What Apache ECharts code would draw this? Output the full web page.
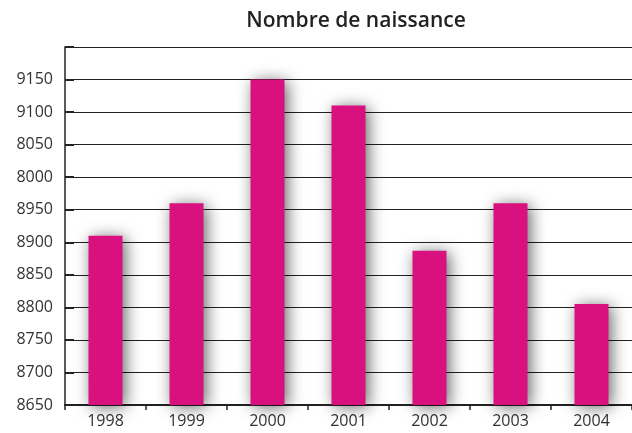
<!DOCTYPE html>
<html><head><meta charset="utf-8">
<script src="https://cdn.jsdelivr.net/npm/echarts@6/dist/echarts.min.js"></script>
<style>html,body{margin:0;padding:0;background:#fff}#c{width:632px;height:433px}</style>
</head><body><div id="c"></div>
<script>
const categories = ['1998','1999','2000','2001','2002','2003','2004'];
const births = [8910, 8960, 9150, 9110, 8887, 8960, 8805];
const tickValues = [8650, 8700, 8750, 8800, 8850, 8900, 8950, 9000, 9050, 9100, 9150];
const tickLabels = ['8650','8700','8750','8800','8850','8900','8950','8000','8050','9100','9150'];
const titleText = 'Nombre de naissance';

const chart = echarts.init(document.getElementById('c'));
chart.setOption({
  animation: false,
  title: {text: titleText, left: 351, top: 6, textAlign: 'center',
    textStyle: {fontFamily: 'Open Sans', fontWeight: 600, fontSize: 21, color: '#222'}},
  grid: {left: 65, right: -2, top: 47, bottom: 28},
  xAxis: {type: 'category', data: categories,
    axisLine: {lineStyle: {color: '#222', width: 2}},
    axisTick: {show: true, length: 5, lineStyle: {color: '#222', width: 1.5}},
    axisLabel: {fontFamily: 'Open Sans', fontSize: 16, color: '#333', margin: 8}},
  yAxis: {type: 'value', min: 8650, max: 9200, interval: 50,
    axisLine: {show: true, lineStyle: {color: '#222', width: 1.5}},
    axisTick: {show: true, inside: true, length: 9, lineStyle: {color: '#222', width: 2}},
    axisLabel: {fontFamily: 'Open Sans', fontSize: 16, color: '#333', margin: 12,
      formatter: v => { const i = tickValues.indexOf(v); return i >= 0 ? tickLabels[i] : ''; }},
    splitLine: {show: true, lineStyle: {color: '#222', width: 1.2}}},
  series: [{type: 'bar', data: births, barWidth: 34,
    itemStyle: {color: '#D8117F', shadowColor: 'rgba(0,0,0,0.6)', shadowBlur: 16, shadowOffsetX: 3, shadowOffsetY: 2}}]
});
</script></body></html>
